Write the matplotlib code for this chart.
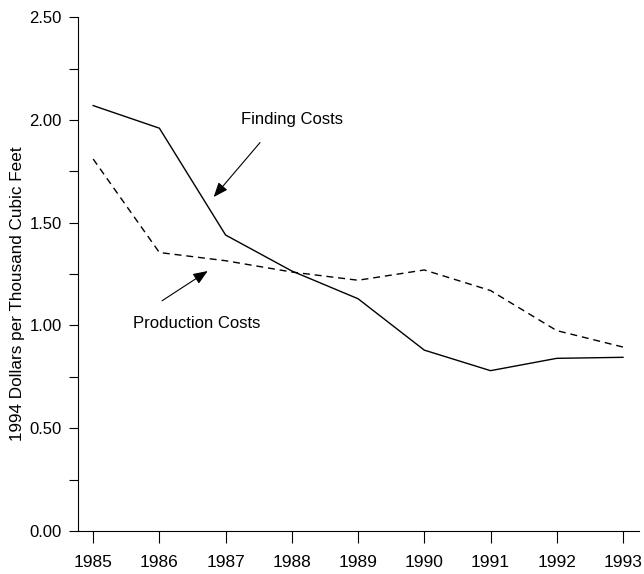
import matplotlib
matplotlib.use("Agg")
import matplotlib.pyplot as plt
from matplotlib.ticker import MultipleLocator

plt.rcParams['font.family'] = ['Liberation Sans Narrow', 'Liberation Sans', 'DejaVu Sans']

years = [1985, 1986, 1987, 1988, 1989, 1990, 1991, 1992, 1993]
finding_costs = [2.07, 1.96, 1.44, 1.265, 1.13, 0.88, 0.78, 0.84, 0.845]
production_costs = [1.81, 1.355, 1.315, 1.26, 1.22, 1.27, 1.17, 0.975, 0.895]
y_ticks = [0.0, 0.5, 1.0, 1.5, 2.0, 2.5]
y_labels = ["0.00", "0.50", "1.00", "1.50", "2.00", "2.50"]


def main():
    fig = plt.figure(figsize=(6.44, 5.74), dpi=100)
    ax = fig.add_axes([0.121, 0.075, 0.871, 0.895])

    ax.plot(years, finding_costs, color="black", lw=1.0)
    ax.plot(years, production_costs, color="black", lw=1.0, linestyle=(0, (5, 3.5)))

    ax.set_xlim(1984.77, 1993.24)
    ax.set_ylim(0, 2.5)
    ax.set_xticks(years)
    ax.set_xticklabels([str(y) for y in years])
    ax.set_yticks(y_ticks)
    ax.set_yticklabels(y_labels)
    ax.yaxis.set_minor_locator(MultipleLocator(0.25))

    for side in ["top", "right"]:
        ax.spines[side].set_visible(False)
    for side in ["left", "bottom"]:
        ax.spines[side].set_linewidth(0.8)

    ax.tick_params(axis="y", which="both", direction="out", length=6.5, width=0.8,
                   labelsize=12, pad=5)
    ax.tick_params(axis="x", direction="out", length=8.5, width=0.8,
                   labelsize=12.5, pad=9)

    ax.set_ylabel("1994 Dollars per Thousand Cubic Feet", fontsize=12.3)
    ax.yaxis.set_label_coords(-0.094, 0.461)

    arrow = dict(arrowstyle="-|>,head_length=0.55,head_width=0.22", color="black",
                 lw=0.8, mutation_scale=16, shrinkA=0, shrinkB=0)
    ax.text(1988.0, 2.0, "Finding Costs", fontsize=12, ha="center", va="center")
    ax.annotate("", xy=(1986.82, 1.625), xytext=(1987.52, 1.89), arrowprops=arrow)
    ax.text(1986.57, 1.01, "Production Costs", fontsize=12, ha="center", va="center")
    ax.annotate("", xy=(1986.73, 1.265), xytext=(1986.04, 1.12), arrowprops=arrow)

    fig.savefig("out.png", dpi=100)
    plt.close(fig)


if __name__ == "__main__":
    main()
